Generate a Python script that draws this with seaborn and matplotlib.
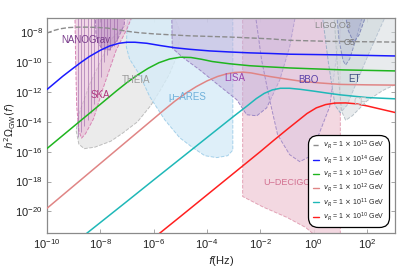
import numpy as np
import pandas as pd
import seaborn as sns
import matplotlib
matplotlib.use('Agg')
from matplotlib import pyplot as plt
from matplotlib.lines import Line2D
from matplotlib.colors import to_rgba

# GW spectra, log10 f[Hz] vs log10 h^2 Omega_GW
lf_15 = [-10, -9.75, -9.5, -9.2, -8.85, -8.5, -8.1, -7.75, -7.4, -7.15, -6.8, -6.5, -5.9, -4.65, -3.15, -1.65, -0.9, 0.6, 3.1]
lo_15 = [-8.07, -7.9, -7.78, -7.7, -7.67, -7.67, -7.69, -7.73, -7.82, -7.9, -7.99, -8.05, -8.13, -8.25, -8.33, -8.45, -8.55, -8.62, -8.67]
lf_14 = [-10, -9.7, -9.4, -9.0, -8.7, -8.4, -8.0, -7.65, -7.3, -7.0, -6.7, -6.25, -5.75, -5.2, -4.65, -3.9, -3.15, -2.4, -1.65, -0.9, 1.1, 3.1]
lo_14 = [-11.85, -11.4, -10.95, -10.4, -10.0, -9.63, -9.22, -8.93, -8.75, -8.68, -8.68, -8.75, -8.9, -9.05, -9.15, -9.26, -9.33, -9.39, -9.43, -9.48, -9.53, -9.6]
lf_13 = [-10, -9.0, -8.0, -7.4, -7.0, -6.6, -6.2, -5.8, -5.4, -5.0, -4.6, -4.2, -3.8, -3.15, -2.4, -1.65, -0.9, 1.1, 3.1]
lo_13 = [-15.8, -14.32, -12.84, -11.95, -11.38, -10.87, -10.42, -10.05, -9.8, -9.68, -9.7, -9.82, -9.97, -10.12, -10.25, -10.33, -10.4, -10.53, -10.6]
lf_12 = [-10, -9, -8, -7, -6, -5.6, -5.2, -4.8, -4.4, -4.0, -3.6, -3.25, -2.95, -2.65, -2.35, -2.0, -1.65, -1.0, -0.5, 0.2, 1.0, 2.0, 3.1]
lo_12 = [-19.8, -18.3, -16.8, -15.3, -13.8, -13.2, -12.62, -12.1, -11.65, -11.27, -10.97, -10.79, -10.7, -10.68, -10.73, -10.85, -10.97, -11.15, -11.28, -11.4, -11.5, -11.53, -11.55]
lf_11 = [-8.6, -8, -7, -6, -5, -4, -3, -2.5, -2.15, -1.85, -1.55, -1.25, -0.9, -0.5, 0.0, 0.5, 1.0, 2.0, 3.1]
lo_11 = [-21.6, -20.75, -19.33, -17.9, -16.48, -15.06, -13.64, -12.95, -12.45, -12.1, -11.87, -11.76, -11.76, -11.83, -11.95, -12.08, -12.2, -12.38, -12.47]
lf_10 = [-5.8, -5, -4, -3, -2, -1.5, -1.0, -0.6, -0.25, 0.1, 0.45, 0.8, 1.2, 1.6, 2.0, 2.5, 3.1]
lo_10 = [-21.5, -20.35, -18.9, -17.45, -16.0, -15.25, -14.52, -13.95, -13.45, -13.07, -12.85, -12.75, -12.74, -12.8, -12.94, -13.15, -13.4]

exps = [15, 14, 13, 12, 11, 10]
line_colors = ['#8c8c8c', '#1a1aff', '#1fb51f', '#e08585', '#1fb8b8', '#ff1f1f']

# sensitivity regions (log10 f, log10 h^2 Omega)
theia_f = [-8.9, -8.8, -8.6, -8.2, -7.6, -7.15, -6.6, -6.1, -5.75, -5.4, -5.1, -5.0, -5.3, -6.5, -7.6, -8.4, -8.8]
theia_lo = [-14.6, -15.5, -15.8, -15.7, -15.3, -14.75, -14.0, -12.9, -11.9, -10.8, -9.5, -8.0, -6.6, -6.6, -8.5, -11.5, -13.5]
ska_f = [-8.95, -8.92, -8.88, -8.8, -8.7, -8.55, -8.25, -7.9, -7.4, -7.0, -6.7]
ska_lo = [-6.5, -10.0, -13.0, -14.6, -15.1, -14.8, -13.8, -11.8, -9.2, -7.8, -6.5]
ng_top_f = [-8.2, -8.15, -7.95, -7.65, -7.35, -7.1, -7.05]
ng_top_lo = [-6.5, -8.4, -9.1, -9.2, -8.5, -7.5, -6.5]
ng_f = [-8.85, -8.72, -8.6, -8.47, -8.35, -8.22, -8.1, -7.98, -7.86, -7.74, -7.62, -7.5, -7.38]
ng_lo = [-15.0, -14.7, -14.3, -13.9, -13.4, -12.8, -12.0, -11.0, -10.0, -9.5, -9.2, -8.9, -8.6]
mu_f = [-6.97, -7.02, -6.9, -6.52, -6.14, -5.58, -5.02, -4.53, -4.08, -3.63, -3.22, -3.03, -3.03]
mu_lo = [-6.5, -9.0, -9.8, -10.87, -12.33, -13.87, -15.07, -15.73, -16.27, -16.4, -16.27, -15.9, -6.5]
udec_f = [-2.66, -2.66, -1.9, -1.0, -0.3, -0.05, 0.3, 1.0, 1.0]
udec_lo = [-6.5, -19.0, -19.7, -20.4, -21.07, -21.45, -22.0, -22.0, -6.5]
lisa_f = [-5.32, -5.3, -4.9, -4.27, -3.6, -2.88, -2.51, -2.13, -1.76, -1.27, -0.9, -0.64]
lisa_lo = [-6.5, -9.07, -9.7, -10.53, -11.5, -12.53, -13.53, -13.6, -13.07, -11.2, -9.0, -6.5]
bbo_f = [-2.21, -1.95, -1.65, -1.35, -0.9, -0.52, -0.15, 0.22, 0.6, 0.79, 0.97, 1.16]
bbo_lo = [-6.5, -9.87, -12.53, -14.87, -16.2, -16.67, -16.33, -14.73, -13.0, -10.53, -8.2, -6.5]
et_f = [0.3, 0.55, 0.8, 1.0, 1.25, 1.6, 2.1, 2.6, 2.8]
et_lo = [-6.5, -10.0, -12.9, -13.4, -12.9, -11.4, -9.3, -7.3, -6.5]
ce_f = [0.75, 0.9, 1.05, 1.2, 1.45, 2.0, 2.6, 3.2, 3.2]
ce_lo = [-6.5, -10.5, -13.3, -13.9, -13.6, -12.6, -11.9, -11.4, -6.5]
o5_f = [0.85, 0.95, 1.1, 1.2, 1.35, 1.6, 1.9]
o5_lo = [-6.5, -8.5, -9.9, -10.2, -9.8, -8.4, -6.5]
o3_f = [1.15, 1.3, 1.5, 1.7, 1.9, 2.0]
o3_lo = [-6.5, -7.9, -8.7, -8.2, -7.2, -6.5]

regions = [
    (theia_f, theia_lo, '#e6e6e6', '#bdbdbd', 0.8),
    (mu_f, mu_lo, '#d6ecf8', '#a4d0ea', 0.8),
    (udec_f, udec_lo, '#f1d2dc', '#e3a2b6', 0.85),
    (ska_f, ska_lo, '#e8bcd6', '#d884b4', 0.6),
    (ng_top_f, ng_top_lo, '#a878b8', '#a878b8', 0.45),
    (lisa_f, lisa_lo, '#c2b2dc', '#9c88c6', 0.55),
    (bbo_f, bbo_lo, '#d8c0e0', '#a58ec8', 0.45),
    (et_f, et_lo, '#d4dde2', '#9eb0c8', 0.7),
    (ce_f, ce_lo, '#d2d9dc', '#b8c2c8', 0.5),
    (o5_f, o5_lo, '#b8bed6', '#8c96c0', 0.45),
    (o3_f, o3_lo, '#a8aece', '#8088b8', 0.5),
]

labels = [
    ('NANOGrav', -8.54, -8.53, '#7a3d8c', 7),
    ('SKA', -7.98, -12.2, '#b0367e', 7),
    ('THEIA', -6.67, -11.2, '#9c9c9c', 7),
    ('\u03bc\u2212ARES', -4.72, -12.33, '#6eb0da', 7),
    ('LISA', -2.96, -11.07, '#9a46b0', 7),
    ('BBO', -0.19, -11.2, '#5a40a8', 7),
    ('ET', 1.54, -11.13, '#3d4f80', 7),
    ('CE', 1.76, -12.67, '#c4c4c4', 7),
    ('LIGO O3', 0.71, -7.53, '#8a8a8a', 6.5),
    ('O5', 1.35, -8.67, '#777777', 6.5),
    ('U\u2212DECIGO', -1.02, -18.07, '#d27090', 6.5),
]

sns.set_style('ticks')
plt.rcParams['font.family'] = ['Liberation Sans', 'DejaVu Sans']
plt.rcParams['mathtext.fontset'] = 'dejavusans'

fig = plt.figure(figsize=(3.97, 2.67), dpi=100)
ax = fig.add_axes([0.118, 0.127, 0.877, 0.806])
ax.set_xscale('log')
ax.set_yscale('log')

for f, o, face, edge, a in regions:
    ax.fill(10 ** np.array(f), 10 ** np.array(o), facecolor=to_rgba(face, a),
            edgecolor=edge, linestyle='--', linewidth=0.7, zorder=1)

ax.vlines(10 ** np.array(ng_f), 10 ** np.array(ng_lo), 1e-6, color='#9a64a8',
          alpha=0.7, linewidth=0.6, zorder=1.5)

curves = [(lf_15, lo_15), (lf_14, lo_14), (lf_13, lo_13), (lf_12, lo_12), (lf_11, lo_11), (lf_10, lo_10)]
for (f, o), c, e in zip(curves, line_colors, exps):
    df = pd.DataFrame({'f': 10 ** np.array(f), 'omega': 10 ** np.array(o)})
    ls = '--' if e == 15 else '-'
    sns.lineplot(data=df, x='f', y='omega', color=c, linewidth=1.1 if e != 15 else 1.0,
                 linestyle=ls, ax=ax, zorder=3)

for txt, x, y, c, fs in labels:
    ax.text(10 ** x, 10 ** y, txt, color=c, fontsize=fs, ha='center', va='center', zorder=4)

ax.set_xlim(1e-10, 10 ** 3.05)
ax.set_ylim(10 ** -21.45, 10 ** -7.05)
ax.set_xticks([10.0 ** k for k in range(-10, 3, 2)])
ax.set_yticks([10.0 ** k for k in range(-20, -7, 2)])
ax.minorticks_off()
ax.tick_params(direction='in', top=True, right=True, length=3, width=0.6,
               color='#999999', labelsize=8, labelcolor='#222222', pad=3)
for s in ax.spines.values():
    s.set_color('#8a8a8a')
    s.set_linewidth(0.9)

ax.set_xlabel('$f$(Hz)', fontsize=8, labelpad=2)
ax.set_ylabel(r'$h^2\Omega_{\rm GW}(f)$', fontsize=7.5)
ax.yaxis.set_label_coords(-0.083, 0.5)

handles = [Line2D([0], [0], color=c, lw=1.0, ls='--' if e == 15 else '-')
           for c, e in zip(line_colors, exps)]
leg_labels = [r'$v_R$ = 1 $\times$ 10$^{%d}$ GeV' % e for e in exps]
leg = ax.legend(handles, leg_labels, loc='lower right', bbox_to_anchor=(0.99, 0.015),
                fontsize=5, frameon=True, fancybox=True, framealpha=1,
                handlelength=0.9, handletextpad=0.6, labelspacing=0.26, borderpad=0.5)
fr = leg.get_frame()
fr.set_edgecolor('black')
fr.set_linewidth(0.9)
fr.set_boxstyle('round,pad=0.1,rounding_size=1.4')
leg.set_zorder(5)

fig.savefig('out.png', dpi=100)
